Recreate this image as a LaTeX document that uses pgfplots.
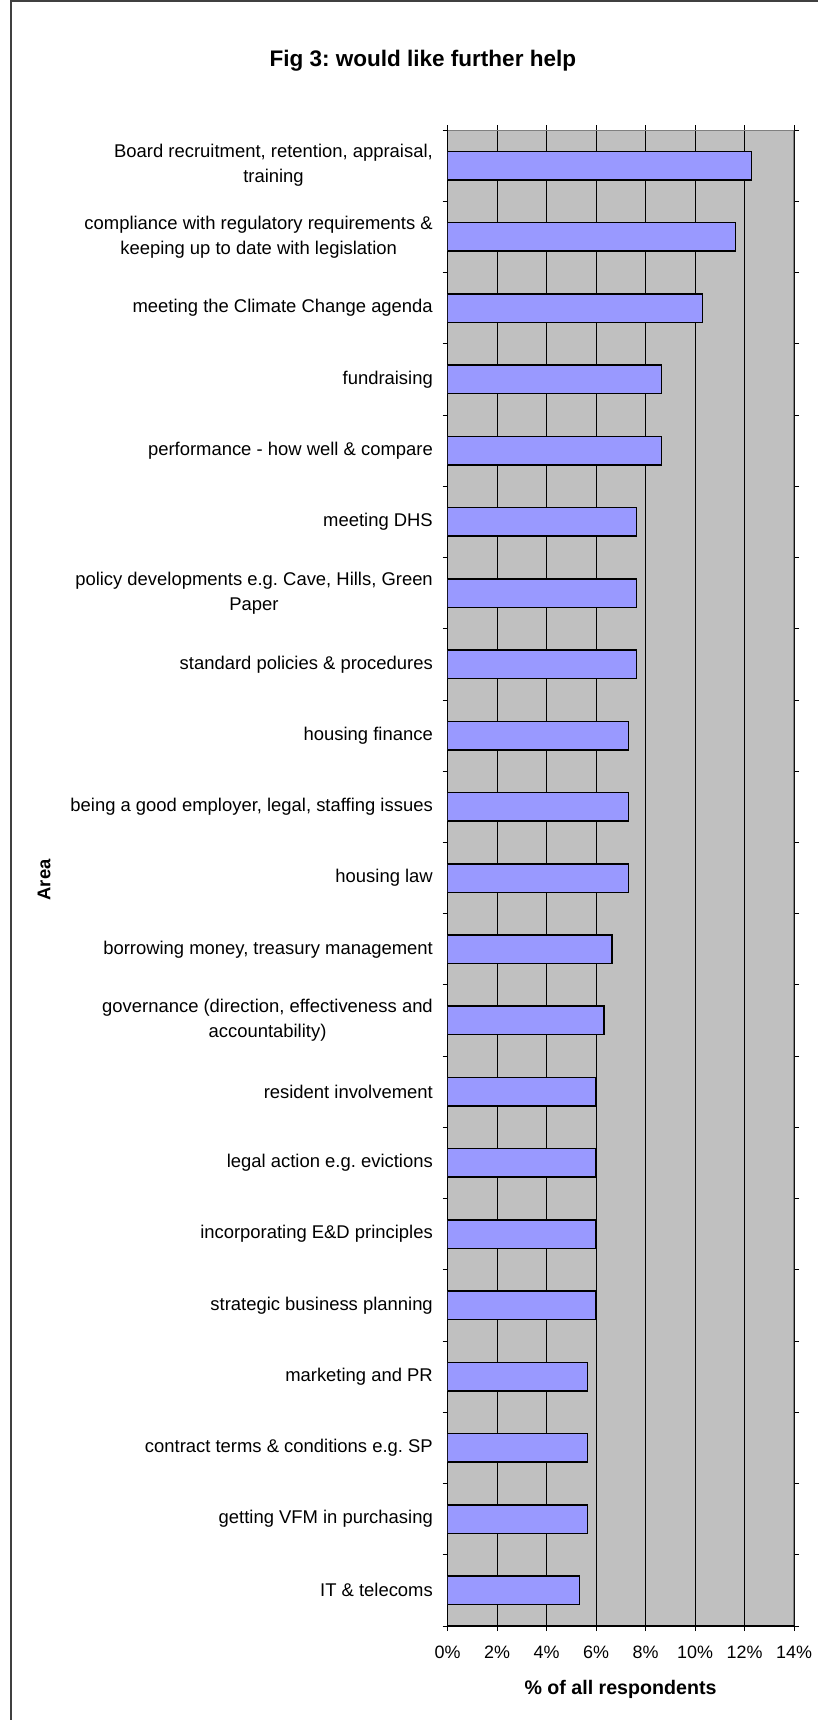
\documentclass[border=0pt]{standalone}
\usepackage{pgfplots}
\usepackage{pgfplotstable}
\pgfplotsset{compat=1.18}
\usepackage{fontspec}
\setmainfont{Liberation Sans}
\frenchspacing
\definecolor{barfill}{HTML}{9999FF}
\definecolor{plotbg}{HTML}{C0C0C0}
\definecolor{frameg}{HTML}{808080}

\pgfplotstableread{
idx value
0 12.29
1 11.63
2 10.30
3 8.64
4 8.64
5 7.64
6 7.64
7 7.64
8 7.31
9 7.31
10 7.31
11 6.64
12 6.31
13 5.98
14 5.98
15 5.98
16 5.98
17 5.65
18 5.65
19 5.65
20 5.32
}\datatable

\begin{document}
\begin{tikzpicture}[x=1bp,y=1bp]
\useasboundingbox (0,0) rectangle (818,1720);
\draw[line width=1.5bp, black!75] (11,-5) -- (11,1719) -- (830,1719);
\begin{axis}[
  at={(447.7bp,94bp)}, anchor=south west,
  scale only axis, width=346.3bp, height=1496bp,
  xmin=0, xmax=14, ymin=-0.5, ymax=20.5, y dir=reverse,
  xtick={0,2,...,14},
  xticklabels={0\%,2\%,4\%,6\%,8\%,10\%,12\%,14\%},
  ytick={0,...,20},
  yticklabels={
    {Board recruitment, retention, appraisal,\\training},
    {compliance with regulatory requirements \&\\keeping up to date with legislation},
    {meeting the Climate Change agenda},
    {fundraising},
    {performance - how well \& compare},
    {meeting DHS},
    {policy developments e.g. Cave, Hills, Green\\Paper},
    {standard policies \& procedures},
    {housing finance},
    {being a good employer, legal, staffing issues},
    {housing law},
    {borrowing money, treasury management},
    {governance (direction, effectiveness and\\accountability)},
    {resident involvement},
    {legal action e.g. evictions},
    {incorporating E\&D principles},
    {strategic business planning},
    {marketing and PR},
    {contract terms \& conditions e.g. SP},
    {getting VFM in purchasing},
    {IT \& telecoms}},
  minor xtick={0,2,...,14},
  minor ytick={-0.5,0.5,...,20.5},
  tick align=outside,
  major tick length=0bp, minor tick length=5bp,
  minor tick style={black, line width=0.8bp},
  xmajorgrids, grid style={black, line width=0.8bp},
  axis background/.style={fill=plotbg},
  axis line style={draw=none},
  tick label style={font=\fontsize{18.5}{25}\selectfont},
  xticklabel style={font=\fontsize{18}{25}\selectfont, anchor=north, inner sep=0pt, yshift=-20bp},
  yticklabel style={align=center, anchor=east, inner sep=0pt, xshift=-14.7bp},
  title={Fig 3: would like further help},
  title style={font=\bfseries\fontsize{22.6}{27}\selectfont, at={(-0.0719,1.0385)}, anchor=base, inner sep=0pt, yshift=0pt},
  xlabel={\% of all respondents},
  xlabel style={font=\bfseries\fontsize{19.7}{23}\selectfont, at={(0.499,-0.0458)}, anchor=base, inner sep=0pt},
  ylabel={Area},
  ylabel style={font=\bfseries\fontsize{18.5}{23}\selectfont, at={(-1.1657,0.4987)}, anchor=center, inner sep=0pt},
]
\addplot[xbar, bar width=0.4, bar shift=0pt, fill=barfill, draw=black, line width=1.5bp]
  table[x=value, y=idx] {\datatable};
\draw[frameg, line width=1.5bp] (axis cs:0,-0.5) -- (axis cs:14,-0.5) -- (axis cs:14,20.5);
\draw[black, line width=1.2bp] (axis cs:0,-0.5) -- (axis cs:0,20.5) -- (axis cs:14,20.5);
\end{axis}
\end{tikzpicture}
\end{document}
